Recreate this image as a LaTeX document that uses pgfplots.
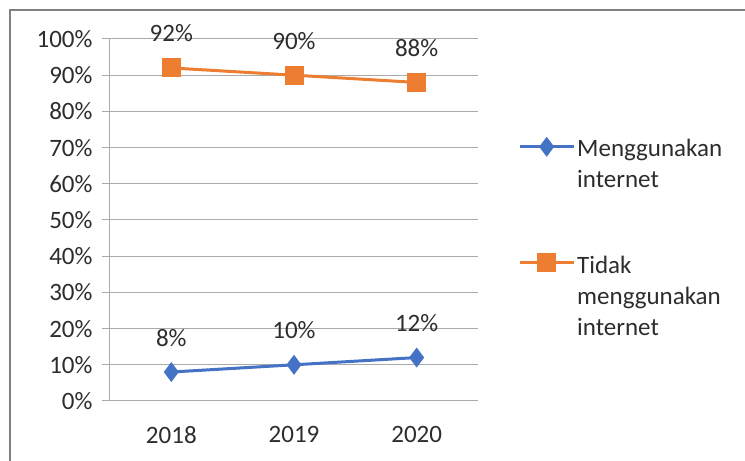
\documentclass[border=0pt]{standalone}
\usepackage{fontspec}
\setmainfont{Carlito}
\usepackage{pgfplots}
\pgfplotsset{compat=1.18}

\definecolor{pakai}{HTML}{4472C4}
\definecolor{tidak}{HTML}{ED7D31}
\definecolor{garis}{RGB}{170,170,170}
\definecolor{teks}{RGB}{45,45,45}

\newcommand{\baris}[1]{\begin{tabular}[t]{@{}l@{}}#1\end{tabular}}

\begin{document}
\begin{tikzpicture}[x=1bp,y=1bp]
  % batas gambar dan bingkai abu-abu (atas dan kiri)
  \useasboundingbox (-110,-60) rectangle (635,401);
  \draw[gray, line width=1.5bp] (-100,-60) -- (-100,391) -- (635,391);

  \begin{axis}[
    at={(0,0)}, anchor=origin,
    scale only axis,
    width=368bp, height=362bp,
    xmin=0.5, xmax=3.5,
    ymin=0, ymax=100,
    clip=false,
    axis lines*=left,
    axis line style={draw=garis, line width=1bp},
    xtick={1,2,3},
    xticklabels={2018,2019,2020},
    x tick style={draw=none},
    extra x ticks={0.5,1.5,2.5,3.5},
    extra x tick labels={},
    extra x tick style={major tick length=9bp, tick style={draw=garis, line width=1bp}, tick align=outside},
    ytick={0,10,...,100},
    yticklabel={\pgfmathprintnumber{\tick}\%},
    ymajorgrids=true,
    xmajorgrids=false,
    major grid style={draw=garis, line width=1bp},
    y tick style={draw=garis, line width=1bp},
    tick align=outside,
    major tick length=8bp,
    tick label style={font=\fontsize{25bp}{30bp}\selectfont, text=teks},
    yticklabel style={xshift=-6bp},
    xticklabel style={yshift=-14bp},
    /pgf/number format/assume math mode=true,
    nodes near coords={\pgfmathprintnumber{\pgfplotspointmeta}\%},
    every node near coord/.append style={font=\fontsize{25bp}{30bp}\selectfont, text=teks, anchor=base, yshift=26bp},
    legend style={
      at={(408bp,268bp)}, anchor=north west,
      draw=none, fill=none, inner sep=0pt,
      font=\fontsize{25bp}{31bp}\selectfont,
      text=teks,
      nodes={inner sep=2bp},
      row sep=89bp,
    },
    legend cell align=left,
    legend image code/.code={
      \draw[mark repeat=2, mark phase=2] plot coordinates {(0bp,0bp) (27bp,0bp) (54bp,0bp)};
    },
  ]
    \addplot[pakai, line width=3bp, mark=diamond*, mark size=7.5bp, mark options={solid, fill=pakai}]
      coordinates {(1,8) (2,10) (3,12)};
    \addplot[tidak, line width=3bp, mark=square*, mark size=8bp, mark options={solid, fill=tidak}]
      coordinates {(1,92) (2,90) (3,88)};
    \legend{\baris{Menggunakan\\internet}, \baris{Tidak\\menggunakan\\internet}}
  \end{axis}
\end{tikzpicture}
\end{document}
